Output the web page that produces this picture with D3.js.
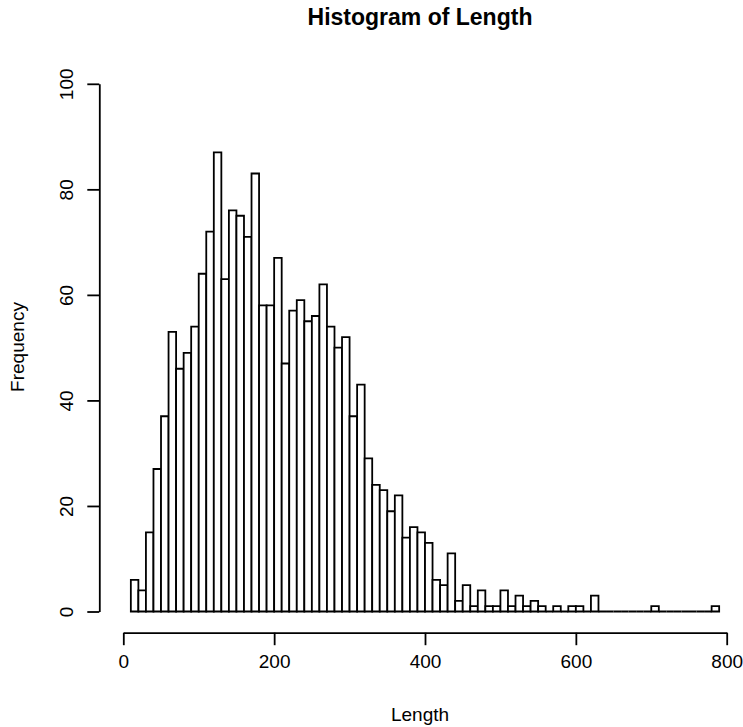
<!DOCTYPE html>
<html>
<head>
<meta charset="utf-8">
<script src="https://cdn.jsdelivr.net/npm/d3@7"></script>
<style>
  body { margin: 0; background: #fff; }
  text { font-family: "Liberation Sans", Arial, sans-serif; fill: #000; }
</style>
</head>
<body>
<div id="chart"></div>
<script>
// bin left edges (width 10)
var binStarts = [10, 20, 30, 40, 50, 60, 70, 80, 90, 100,
    110, 120, 130, 140, 150, 160, 170, 180, 190, 200,
    210, 220, 230, 240, 250, 260, 270, 280, 290, 300,
    310, 320, 330, 340, 350, 360, 370, 380, 390, 400,
    410, 420, 430, 440, 450, 460, 470, 480, 490, 500,
    510, 520, 530, 540, 550, 560, 570, 580, 590, 600,
    610, 620, 630, 640, 650, 660, 670, 680, 690, 700,
    710, 720, 730, 740, 750, 760, 770, 780];
var binWidth = 10;
var counts = [6, 4, 15, 27, 37, 53, 46, 49, 54, 64,
    72, 87, 63, 76, 75, 71, 83, 58, 58, 67,
    47, 57, 59, 55, 56, 62, 54, 50, 52, 37,
    43, 29, 24, 23, 19, 22, 14, 16, 15, 13,
    6, 5, 11, 2, 5, 1, 4, 1, 1, 4,
    1, 3, 1, 2, 1, 0, 1, 0, 1, 1,
    0, 3, 0, 0, 0, 0, 0, 0, 0, 1,
    0, 0, 0, 0, 0, 0, 0, 1];
var xTicks = [0, 200, 400, 600, 800];
var yTicks = [0, 20, 40, 60, 80, 100];

var W = 743, H = 727;
var fontSize = 19;

var x = d3.scaleLinear().domain([0, 800]).range([123.3, 726.7]);
var y = d3.scaleLinear().domain([0, 100]).range([611.5, 83.8]);

var svg = d3.select("#chart").append("svg")
    .attr("width", W)
    .attr("height", H);

// bars as closed paths so empty bins still show as a flat line (like R's rect)
svg.append("g").selectAll("path")
    .data(counts)
    .enter().append("path")
    .attr("d", function (d, i) {
        var x0 = x(binStarts[i]), x1 = x(binStarts[i] + binWidth),
            y0 = y(0), y1 = y(d);
        return "M" + x0 + "," + y0 + "L" + x0 + "," + y1 + "L" + x1 + "," + y1 + "L" + x1 + "," + y0 + "Z";
    })
    .style("fill", "white")
    .style("stroke", "#000")
    .style("stroke-width", "1.8px");

// x axis
var xAxis = svg.append("g")
    .attr("transform", "translate(0,632.7)")
    .call(d3.axisBottom(x).tickValues(xTicks).tickSize(12.5).tickSizeOuter(0).tickPadding(9));
xAxis.select(".domain").style("stroke-width", "1.8px");
xAxis.selectAll(".tick line").style("stroke-width", "1.8px");
xAxis.selectAll("text")
    .style("font-size", fontSize + "px")
    .attr("fill", "#000");

// y axis
var yAxis = svg.append("g")
    .attr("transform", "translate(99.3,0)")
    .call(d3.axisLeft(y).tickValues(yTicks).tickSize(12).tickSizeOuter(0));
yAxis.select(".domain").style("stroke-width", "1.8px");
yAxis.selectAll(".tick line").style("stroke-width", "1.8px");
yAxis.selectAll("text")
    .attr("x", 0)
    .attr("y", 0)
    .attr("dy", 0)
    .attr("transform", "translate(-26,0) rotate(-90)")
    .attr("text-anchor", "middle")
    .style("font-size", fontSize + "px")
    .attr("fill", "#000");

// title and labels
svg.append("text")
    .attr("x", 420)
    .attr("y", 25)
    .attr("text-anchor", "middle")
    .style("font-weight", "bold")
    .style("font-size", "23px")
    .text("Histogram of Length");

svg.append("text")
    .attr("x", 420)
    .attr("y", 721)
    .attr("text-anchor", "middle")
    .style("font-size", fontSize + "px")
    .text("Length");

svg.append("text")
    .attr("transform", "translate(24,347) rotate(-90)")
    .attr("text-anchor", "middle")
    .style("font-size", fontSize + "px")
    .text("Frequency");
</script>
</body>
</html>
